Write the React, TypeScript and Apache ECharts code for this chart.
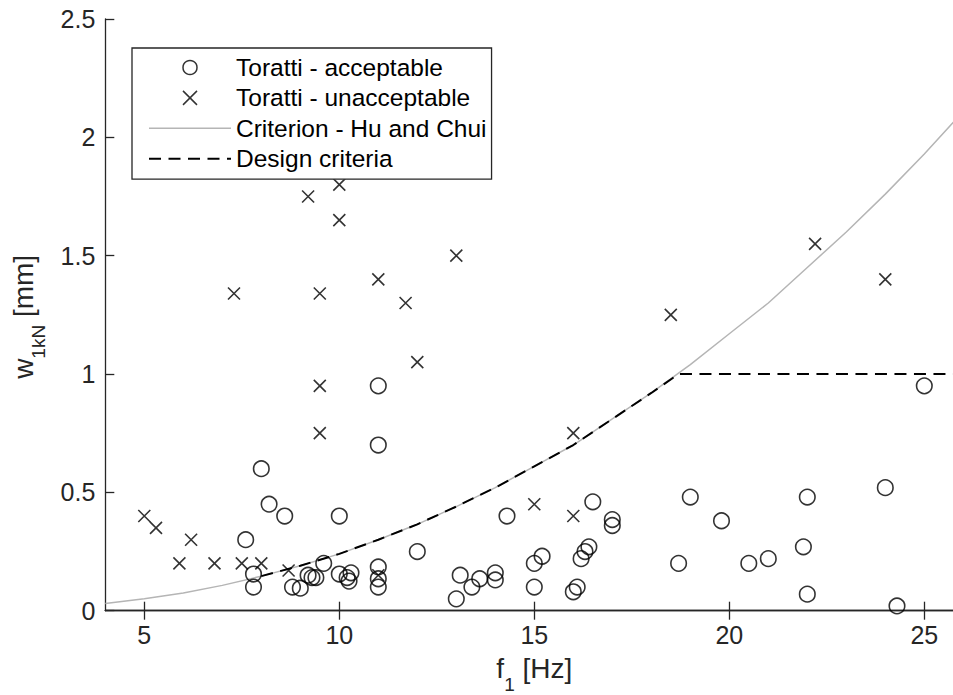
import React, { useEffect, useRef } from "react";
import * as echarts from "echarts";

// Toratti - acceptable (circles)
const acceptableF = [7.6, 7.8, 7.8, 8.0, 8.2, 8.6, 8.8, 9.0, 9.2, 9.3, 9.4, 9.6, 10.0, 10.0, 10.2, 10.3, 10.25, 11.0, 11.0, 11.0, 11.0, 11.0, 12.0, 13.0, 13.1, 13.4, 13.6, 14.0, 14.0, 14.3, 15.0, 15.2, 15.0, 16.0, 16.1, 16.2, 16.3, 16.4, 16.5, 17.0, 17.0, 18.7, 19.0, 19.8, 20.5, 21.0, 21.9, 22.0, 22.0, 24.0, 24.3, 25.0];
const acceptableW = [0.30, 0.155, 0.10, 0.60, 0.45, 0.40, 0.10, 0.095, 0.15, 0.14, 0.14, 0.20, 0.40, 0.155, 0.14, 0.16, 0.125, 0.95, 0.70, 0.185, 0.135, 0.10, 0.25, 0.05, 0.15, 0.10, 0.135, 0.16, 0.13, 0.40, 0.20, 0.23, 0.10, 0.08, 0.10, 0.22, 0.25, 0.27, 0.46, 0.385, 0.36, 0.20, 0.48, 0.38, 0.20, 0.22, 0.27, 0.48, 0.07, 0.52, 0.02, 0.95];

// Toratti - unacceptable (crosses)
const unacceptableF = [5.0, 5.3, 5.9, 6.2, 6.8, 7.3, 7.5, 8.0, 8.7, 9.2, 9.5, 9.5, 9.5, 10.0, 10.0, 11.0, 11.0, 11.7, 12.0, 13.0, 15.0, 16.0, 16.0, 18.5, 22.2, 24.0];
const unacceptableW = [0.40, 0.35, 0.20, 0.30, 0.20, 1.34, 0.20, 0.20, 0.17, 1.75, 1.34, 0.95, 0.75, 1.80, 1.65, 1.40, 0.15, 1.30, 1.05, 1.50, 0.45, 0.75, 0.40, 1.25, 1.55, 1.40];

// Criterion - Hu and Chui
const criterionF = [4, 5, 6, 7, 8, 9, 10, 11, 12, 13, 14, 15, 16, 17, 18, 19, 20, 21, 22, 23, 24, 25, 26];
const criterionW = [0.030, 0.050, 0.075, 0.107, 0.146, 0.19, 0.24, 0.30, 0.365, 0.44, 0.52, 0.61, 0.70, 0.81, 0.92, 1.04, 1.17, 1.30, 1.45, 1.60, 1.76, 1.93, 2.11];

// Design criteria
const designF = [8, 9, 10, 11, 12, 13, 14, 15, 16, 17, 18, 18.7, 26];
const designW = [0.146, 0.19, 0.24, 0.30, 0.365, 0.44, 0.52, 0.61, 0.70, 0.81, 0.92, 1.0, 1.0];

const xTickValues = [5, 10, 15, 20, 25];
const seriesNames = ["Toratti - acceptable", "Toratti - unacceptable", "Criterion - Hu and Chui", "Design criteria"];

const FONT = "'Liberation Sans', Arial, Helvetica, sans-serif";
const AXIS_COLOR = "#262626";
const CROSS = "path://M0,0L10,10M10,0L0,10";

const zip = (a: number[], b: number[]) => a.map((v, i) => [v, b[i]]);

export default function App() {
  const ref = useRef<HTMLDivElement>(null);
  useEffect(() => {
    if (!ref.current) return;
    const chart = echarts.init(ref.current, undefined, { renderer: "svg" });
    const axisLine = { show: true, lineStyle: { color: AXIS_COLOR, width: 1.3 } };
    const nameRich = {
      n: { fontSize: 28, lineHeight: 39, verticalAlign: "top", color: AXIS_COLOR, fontFamily: FONT },
      s: { fontSize: 19, verticalAlign: "bottom", color: AXIS_COLOR, fontFamily: FONT },
    };
    chart.setOption({
      animation: false,
      backgroundColor: "#ffffff",
      textStyle: { fontFamily: FONT },
      grid: { left: 105.3, top: 19, width: 858, height: 591.7, containLabel: false, outerBoundsMode: "none" },
      legend: {
        show: true,
        orient: "vertical",
        left: 132,
        top: 48,
        padding: [7, 5, 8, 16],
        itemWidth: 82,
        itemHeight: 14,
        itemGap: 5.4,
        backgroundColor: "#ffffff",
        borderColor: AXIS_COLOR,
        borderWidth: 1.3,
        borderRadius: 0,
        textStyle: { fontSize: 24.5, lineHeight: 24, color: "#000", fontFamily: FONT },
        data: [
          { name: seriesNames[0], itemStyle: { borderWidth: 1.5, borderColor: "#000", color: "rgba(0,0,0,0)" } },
          { name: seriesNames[1], itemStyle: { borderWidth: 1.5, borderColor: "#000", color: "rgba(0,0,0,0)" } },
          { name: seriesNames[2], lineStyle: { width: 1.5, color: "#b5b5b5" }, itemStyle: { color: "rgba(0,0,0,0)", borderWidth: 0 } },
          { name: seriesNames[3], lineStyle: { width: 2, color: "#000", type: [12, 7.5] }, itemStyle: { color: "rgba(0,0,0,0)", borderWidth: 0 } },
        ],
      },
      xAxis: [
        {
          type: "value",
          position: "bottom",
          min: 4,
          max: 26,
          axisLine,
          axisTick: { show: true, inside: true, length: 9, customValues: xTickValues, lineStyle: { color: AXIS_COLOR, width: 1.3 } },
          axisLabel: { customValues: xTickValues, fontSize: 25, color: AXIS_COLOR, margin: 12, fontFamily: FONT },
          splitLine: { show: false },
          name: "{n|f}{s|1}{n| [Hz]}",
          nameLocation: "middle",
          nameGap: 44,
          nameTextStyle: { rich: nameRich },
        },
        {
          type: "value",
          position: "top",
          min: 4,
          max: 26,
          axisLine,
          axisTick: { show: true, inside: true, length: 9, customValues: xTickValues, lineStyle: { color: AXIS_COLOR, width: 1.3 } },
          axisLabel: { show: false },
          splitLine: { show: false },
        },
      ],
      yAxis: [
        {
          type: "value",
          position: "left",
          min: 0,
          max: 2.5,
          interval: 0.5,
          axisLine,
          axisTick: { show: true, inside: true, length: 9, lineStyle: { color: AXIS_COLOR, width: 1.3 } },
          axisLabel: { fontSize: 25, color: AXIS_COLOR, margin: 10, fontFamily: FONT },
          splitLine: { show: false },
          name: "{n|w}{s|1kN}{n| [mm]}",
          nameLocation: "middle",
          nameGap: 57,
          nameTextStyle: { rich: nameRich, padding: [0, 4, 0, 0] },
        },
        {
          type: "value",
          position: "right",
          min: 0,
          max: 2.5,
          interval: 0.5,
          axisLine,
          axisTick: { show: true, inside: true, length: 9, lineStyle: { color: AXIS_COLOR, width: 1.3 } },
          axisLabel: { show: false },
          splitLine: { show: false },
        },
      ],
      series: [
        {
          name: seriesNames[2],
          type: "line",
          xAxisIndex: 0,
          yAxisIndex: 0,
          data: zip(criterionF, criterionW),
          symbol: "none",
          showSymbol: false,
          itemStyle: { color: "rgba(0,0,0,0)" },
          lineStyle: { color: "#b5b5b5", width: 1.5 },
          z: 1,
        },
        {
          name: seriesNames[3],
          type: "line",
          xAxisIndex: 0,
          yAxisIndex: 0,
          data: zip(designF, designW),
          symbol: "none",
          showSymbol: false,
          itemStyle: { color: "rgba(0,0,0,0)" },
          lineStyle: { color: "#000", width: 2, type: [12, 7.5] },
          z: 2,
        },
        {
          name: seriesNames[0],
          type: "scatter",
          xAxisIndex: 0,
          yAxisIndex: 0,
          data: zip(acceptableF, acceptableW),
          symbol: "circle",
          symbolSize: 15.5,
          itemStyle: { color: "rgba(0,0,0,0)", borderColor: "#000", borderWidth: 1.6 },
          z: 3,
        },
        {
          name: seriesNames[1],
          type: "scatter",
          xAxisIndex: 0,
          yAxisIndex: 0,
          data: zip(unacceptableF, unacceptableW),
          symbol: CROSS,
          symbolSize: 12,
          itemStyle: { color: "rgba(0,0,0,0)", borderColor: "#000", borderWidth: 1.6 },
          z: 3,
        },
      ],
    });
    return () => chart.dispose();
  }, []);
  return (
    <div
      ref={ref}
      style={{ position: "fixed", left: 0, top: 0, width: 953, height: 695, background: "#fff" }}
    />
  );
}
